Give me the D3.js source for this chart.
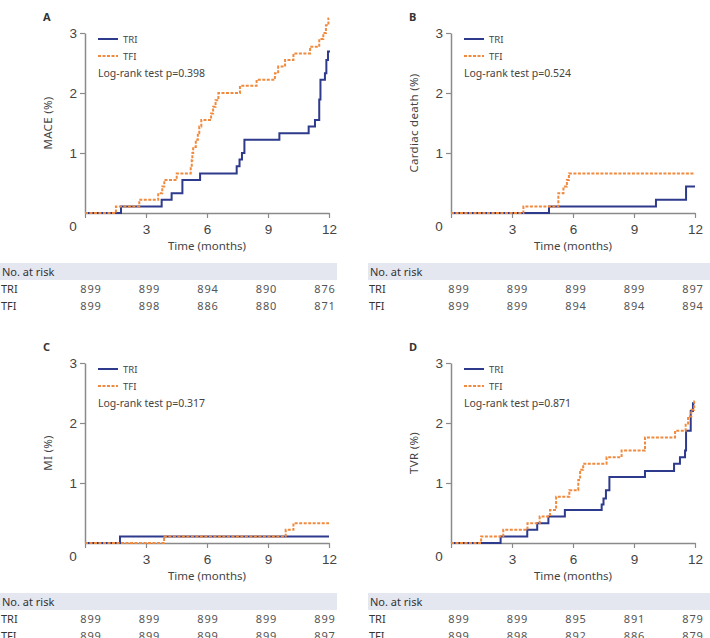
<!DOCTYPE html>
<html>
<head>
<meta charset="utf-8">
<script src="https://cdn.jsdelivr.net/npm/d3@7"></script>
<style>
  body { margin: 0; background: #fff; }
  svg { display: block; font-family: 'Noto Sans', 'Open Sans', sans-serif; }
</style>
</head>
<body>
<div id="chart"></div>
<script>
const months = [0, 3, 6, 9, 12];
const yTicks = [1, 2, 3];
const panelLetters = ['A', 'B', 'C', 'D'];
const yTitles = ['MACE (%)', 'Cardiac death (%)', 'MI (%)', 'TVR (%)'];
const pValues = ['0.398', '0.524', '0.317', '0.871'];
const groups = ['TRI', 'TFI'];

// cumulative incidence step points [month, %]
const triMace = [[0, 0], [1.77, 0.11], [3.77, 0.22], [4.26, 0.33], [4.79, 0.55], [5.66, 0.66], [7.46, 0.78], [7.6, 0.89], [7.72, 1.0], [7.84, 1.22], [9.56, 1.33], [11.0, 1.44], [11.31, 1.55], [11.52, 1.89], [11.58, 2.22], [11.8, 2.33], [11.87, 2.55], [11.95, 2.69], [12.05, 2.69]];
const tfiMace = [[0, 0], [1.52, 0.11], [2.67, 0.22], [3.6, 0.33], [3.8, 0.44], [3.9, 0.55], [4.51, 0.66], [5.2, 0.77], [5.25, 0.88], [5.28, 1.0], [5.32, 1.1], [5.45, 1.22], [5.55, 1.33], [5.62, 1.44], [5.72, 1.55], [6.2, 1.66], [6.3, 1.77], [6.42, 1.88], [6.56, 2.0], [7.62, 2.12], [8.44, 2.22], [9.34, 2.33], [9.5, 2.44], [9.84, 2.55], [10.25, 2.66], [11.07, 2.77], [11.52, 2.9], [11.72, 3.0], [11.85, 3.13], [11.97, 3.24], [12.0, 3.24]];
const triCardiac = [[0, 0], [4.82, 0.11], [10.08, 0.22], [11.56, 0.44], [12.0, 0.44]];
const tfiCardiac = [[0, 0], [3.56, 0.11], [5.28, 0.33], [5.53, 0.44], [5.7, 0.55], [5.8, 0.66], [12.0, 0.66]];
const triMi = [[0, 0], [1.72, 0.11], [12.0, 0.11]];
const tfiMi = [[0, 0], [3.89, 0.11], [9.87, 0.22], [10.25, 0.33], [12.0, 0.33]];
const triTvr = [[0, 0], [2.44, 0.11], [3.75, 0.22], [4.24, 0.33], [4.79, 0.44], [5.6, 0.55], [7.41, 0.64], [7.5, 0.74], [7.62, 0.88], [7.79, 1.1], [9.54, 1.2], [10.97, 1.32], [11.26, 1.43], [11.51, 1.54], [11.56, 1.87], [11.79, 2.2], [11.9, 2.33], [12.0, 2.33]];
const tfiTvr = [[0, 0], [1.48, 0.11], [2.57, 0.22], [3.76, 0.33], [4.36, 0.44], [4.87, 0.55], [5.17, 0.77], [5.82, 0.88], [6.26, 1.05], [6.35, 1.22], [6.5, 1.32], [7.65, 1.43], [8.39, 1.54], [9.54, 1.76], [11.02, 1.87], [11.54, 1.99], [11.66, 2.11], [11.82, 2.22], [11.96, 2.36], [12.0, 2.36]];

// numbers at risk at 0, 3, 6, 9, 12 months
const riskTriMace = [899, 899, 894, 890, 876];
const riskTfiMace = [899, 898, 886, 880, 871];
const riskTriCardiac = [899, 899, 899, 899, 897];
const riskTfiCardiac = [899, 899, 894, 894, 894];
const riskTriMi = [899, 899, 899, 899, 899];
const riskTfiMi = [899, 899, 899, 899, 897];
const riskTriTvr = [899, 899, 895, 891, 879];
const riskTfiTvr = [899, 898, 892, 886, 879];

const triColor = '#2e3a8c';
const tfiColor = '#f08a3e';
const axisColor = '#8a8a8a';

const panels = [
  { tri: triMace, tfi: tfiMace, riskTri: riskTriMace, riskTfi: riskTfiMace },
  { tri: triCardiac, tfi: tfiCardiac, riskTri: riskTriCardiac, riskTfi: riskTfiCardiac },
  { tri: triMi, tfi: tfiMi, riskTri: riskTriMi, riskTfi: riskTfiMi },
  { tri: triTvr, tfi: tfiTvr, riskTri: riskTriTvr, riskTfi: riskTfiTvr }
].map((p, i) => ({
  ...p,
  letter: panelLetters[i],
  title: yTitles[i],
  p: pValues[i],
  col: i % 2,
  row: Math.floor(i / 2)
}));

const svg = d3.select('#chart').append('svg')
  .attr('width', 710)
  .attr('height', 638);

function drawPanel(panel) {
  const left = panel.col === 0 ? 85 : 451;
  const bottom = panel.row === 0 ? 213 : 543;
  const width = 244;
  const height = 180;

  const g = svg.append('g').attr('transform', `translate(${left},${bottom - height})`);

  const x = d3.scaleLinear().domain([0, 12]).range([0, width]);
  const y = d3.scaleLinear().domain([0, 3]).range([height, 0]);

  // x axis
  const xAxis = g.append('g')
    .attr('transform', `translate(0,${height})`)
    .call(d3.axisBottom(x).tickValues(months).tickSize(5).tickSizeOuter(0).tickFormat(d => d === 0 ? '' : d));
  // y axis
  const yAxis = g.append('g')
    .call(d3.axisLeft(y).tickValues(yTicks).tickSize(5).tickSizeOuter(0).tickFormat(d3.format('d')));

  [xAxis, yAxis].forEach(ax => {
    ax.select('.domain').attr('stroke', axisColor).attr('stroke-width', 1.5);
    ax.selectAll('.tick line').attr('stroke', axisColor).attr('stroke-width', 1.2);
    ax.selectAll('.tick text')
      .attr('fill', '#444')
      .attr('font-size', 13.5)
      .attr('font-family', "'Liberation Sans', Arial, sans-serif");
  });
  xAxis.selectAll('.tick text').attr('dy', '0.95em');
  yAxis.selectAll('.tick text').attr('x', -8);

  g.append('text')
    .attr('x', -12)
    .attr('y', height + 18)
    .attr('text-anchor', 'middle')
    .attr('fill', '#444')
    .attr('font-size', 13.5)
    .attr('font-family', "'Liberation Sans', Arial, sans-serif")
    .text('0');

  g.append('text')
    .attr('x', width / 2)
    .attr('y', height + 37)
    .attr('text-anchor', 'middle')
    .attr('fill', '#444')
    .attr('font-size', 11.5)
    .text('Time (months)');

  g.append('text')
    .attr('transform', `translate(-33,${height / 2}) rotate(-90)`)
    .attr('text-anchor', 'middle')
    .attr('fill', '#444')
    .attr('font-size', 11.5)
    .attr('letter-spacing', 0.3)
    .text(panel.title);

  g.append('text')
    .attr('x', -42)
    .attr('y', -12)
    .attr('font-weight', 'bold')
    .attr('font-size', 11)
    .attr('fill', '#333')
    .text(panel.letter);

  // legend
  const legend = [
    { name: groups[0], color: triColor, dash: null, yy: 6 },
    { name: groups[1], color: tfiColor, dash: '3,1.5', yy: 23 }
  ];
  legend.forEach(item => {
    g.append('line')
      .attr('x1', 13).attr('x2', 33)
      .attr('y1', item.yy).attr('y2', item.yy)
      .attr('stroke', item.color)
      .attr('stroke-width', 2)
      .attr('stroke-dasharray', item.dash);
    g.append('text')
      .attr('x', 38)
      .attr('y', item.yy + 3.5)
      .attr('font-size', 9.5)
      .attr('fill', '#444')
      .text(item.name);
  });
  g.append('text')
    .attr('x', 13)
    .attr('y', 44)
    .attr('font-size', 10.5)
    .attr('fill', '#444')
    .text(`Log-rank test p=${panel.p}`);

  const line = d3.line()
    .x(d => x(d[0]))
    .y(d => y(d[1]))
    .curve(d3.curveStepAfter);

  g.append('path')
    .datum(panel.tri)
    .attr('fill', 'none')
    .attr('stroke', triColor)
    .attr('stroke-width', 2)
    .attr('d', line);

  g.append('path')
    .datum(panel.tfi)
    .attr('fill', 'none')
    .attr('stroke', tfiColor)
    .attr('stroke-width', 2)
    .attr('stroke-dasharray', '3,1.5')
    .attr('d', line);

  // risk table
  const tableLeft = panel.col === 0 ? 0 : 368;
  const tableTop = panel.row === 0 ? 263 : 593;
  const t = svg.append('g').attr('transform', `translate(${tableLeft},${tableTop})`);

  t.append('rect')
    .attr('x', 0).attr('y', 0)
    .attr('width', panel.col === 0 ? 337 : 342)
    .attr('height', 17)
    .attr('fill', '#e4e6f0');

  t.append('text')
    .attr('x', 2).attr('y', 12.5)
    .attr('font-size', 11)
    .attr('fill', '#333')
    .text('No. at risk');

  const colX = d3.scaleLinear().domain([0, 12]).range([91, 325]);
  const rows = [
    { name: groups[0], values: panel.riskTri, yy: 30 },
    { name: groups[1], values: panel.riskTfi, yy: 47 }
  ];
  rows.forEach(r => {
    t.append('text')
      .attr('x', 1).attr('y', r.yy)
      .attr('font-size', 11)
      .attr('fill', '#333')
      .text(r.name);
    t.selectAll(null)
      .data(r.values)
      .join('text')
      .attr('x', (d, i) => colX(months[i]))
      .attr('y', r.yy)
      .attr('text-anchor', 'middle')
      .attr('font-size', 11)
      .attr('letter-spacing', 0.8)
      .attr('fill', '#555')
      .text(d => d);
  });
}

panels.forEach(drawPanel);
</script>
</body>
</html>
